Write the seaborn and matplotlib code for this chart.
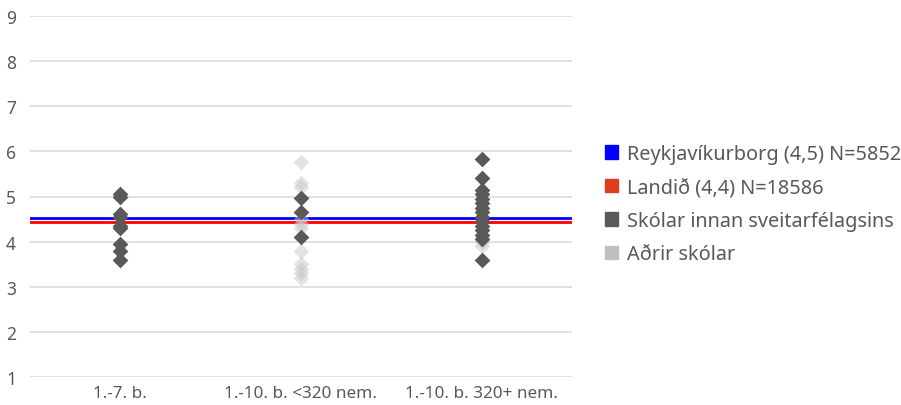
import pandas as pd
import matplotlib.pyplot as plt
from matplotlib.patches import Patch
import seaborn as sns

# categories on the x axis
categories = ['1.-7. b.', '1.-10. b. <320 nem.', '1.-10. b. 320+ nem.']

# schools within the municipality (dark diamonds)
own_cat1 = [5.05, 5.0, 4.62, 4.55, 4.35, 4.3, 3.95, 3.8, 3.6]
own_cat2 = [4.97, 4.65, 4.1]
own_cat3 = [5.82, 5.42, 5.15, 5.05, 4.95, 4.85, 4.75, 4.65, 4.55, 4.45,
            4.35, 4.25, 4.15, 4.05, 3.6]

# other schools (light diamonds)
other_cat2 = [5.76, 5.3, 5.2, 4.5, 4.4, 4.3, 3.8, 3.5, 3.4, 3.3, 3.2]
other_cat3 = [4.0, 3.9]

reykjavik_mean = 4.53
landid_mean = 4.44

legend_labels = ['Reykjavíkurborg (4,5) N=5852', 'Landið (4,4) N=18586',
                 'Skólar innan sveitarfélagsins', 'Aðrir skólar']

own_df = pd.DataFrame({
    'flokkur': [categories[0]] * len(own_cat1) + [categories[1]] * len(own_cat2)
               + [categories[2]] * len(own_cat3),
    'gildi': own_cat1 + own_cat2 + own_cat3,
})
other_df = pd.DataFrame({
    'flokkur': [categories[1]] * len(other_cat2) + [categories[2]] * len(other_cat3),
    'gildi': other_cat2 + other_cat3,
})

sns.set_style('white')
plt.rcParams['font.family'] = ['Noto Sans', 'DejaVu Sans']
text_color = '#595959'

fig = plt.figure(figsize=(9.01, 4.06), dpi=100)
ax = fig.add_axes([30 / 901, 1 - 378 / 406, 542 / 901, 361 / 406])

# grid lines
for y in range(1, 10):
    ax.axhline(y, color='#d9d9d9', lw=1.1, zorder=0)

ax.axhline(reykjavik_mean, color='#0000ff', lw=2, zorder=1)
ax.axhline(landid_mean, color='#ff0000', lw=2, zorder=1)

sns.stripplot(data=other_df, x='flokkur', y='gildi', order=categories, jitter=False,
              marker='D', s=8, color='#c8c8c8', alpha=0.5, linewidth=0, ax=ax, zorder=2)
sns.stripplot(data=own_df, x='flokkur', y='gildi', order=categories, jitter=False,
              marker='D', s=8, color='#595959', linewidth=0, ax=ax, zorder=3)

ax.set_xlim(-0.5, 2.5)
ax.set_ylim(1, 9)
ax.set_yticks(range(1, 10))
ax.set_xlabel('')
ax.set_ylabel('')
ax.tick_params(axis='y', length=0, pad=10, labelsize=12.5, labelcolor=text_color)
ax.tick_params(axis='x', length=0, pad=6, labelsize=12.3, labelcolor=text_color)
sns.despine(ax=ax, left=True, bottom=True)

handles = [Patch(color='#0000ff'), Patch(color='#e03c1e'),
           Patch(color='#595959'), Patch(color='#bfbfbf')]
fig.legend(handles, legend_labels, loc='upper left', bbox_to_anchor=(0.652, 0.687),
           frameon=False, fontsize=14.3, labelcolor=text_color,
           handlelength=0.65, handleheight=0.65, handletextpad=0.45, labelspacing=0.68)

fig.savefig('out.png', dpi=100)
